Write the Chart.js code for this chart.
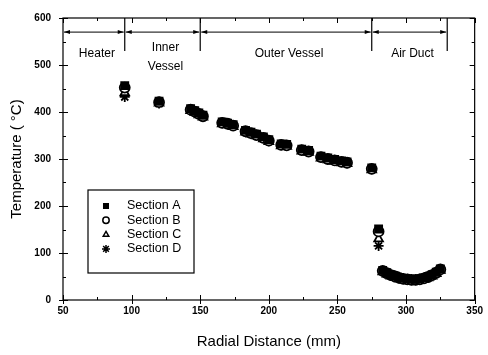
<!DOCTYPE html>
<html>
<head>
<meta charset="utf-8">
<script src="https://cdn.jsdelivr.net/npm/chart.js@4/dist/chart.umd.min.js"></script>
<style>
  body { margin: 0; background: #fff; }
  canvas { display: block; }
</style>
</head>
<body>
<canvas id="tempChart" width="488" height="355"></canvas>
<script>
// Radial temperature profile, four measurement sections

const distances = [95, 120, 143, 146, 149, 152, 166, 170, 174, 183, 187, 191, 196, 200, 209, 213, 224, 229, 238, 243, 248, 253, 257, 275, 280, 283, 286, 289, 292, 295, 298, 301, 304, 307, 310, 313, 316, 319, 322, 325];
const sectionA = [456, 423, 407, 403, 398, 393, 379, 376, 373, 361, 357, 353, 347, 341, 332, 331, 321, 318, 306, 302, 299, 296, 294, 281, 151, 63, 58, 54, 51, 48, 46, 45, 44, 44, 45, 47, 50, 54, 59, 66];
const sectionB = [452, 421, 405, 401, 396, 391, 377, 375, 371, 359, 355, 351, 345, 339, 330, 329, 319, 316, 304, 300, 297, 294, 292, 279, 146, 62, 57, 53, 50, 47, 45, 44, 43, 43, 44, 46, 49, 53, 58, 65];
const sectionC = [441, 419, 403, 399, 394, 389, 375, 373, 369, 357, 353, 349, 343, 337, 328, 327, 317, 314, 302, 298, 295, 292, 290, 277, 130, 60, 55, 51, 48, 45, 43, 42, 41, 41, 42, 44, 47, 51, 56, 63];
const sectionD = [432, 418, 404, 400, 395, 390, 376, 374, 370, 358, 354, 350, 344, 338, 329, 328, 318, 315, 303, 299, 296, 293, 291, 278, 115, 61, 56, 52, 49, 46, 44, 43, 42, 42, 43, 45, 48, 52, 57, 64];

const sectionNames = ['Section A', 'Section B', 'Section C', 'Section D'];
const regionBounds = [50, 95, 150, 275, 330];
const regionNames = [['Heater'], ['Inner', 'Vessel'], ['Outer Vessel'], ['Air Duct']];

const FONT = '"Liberation Sans", Arial, sans-serif';

function toPoints(values) {
  return distances.map((d, i) => ({ x: d, y: values[i] }));
}

const markerStyles = [
  { pointStyle: 'rect', fill: '#000' },
  { pointStyle: 'circle', fill: '#fff' },
  { pointStyle: 'triangle', fill: '#fff' },
  { pointStyle: 'star', fill: '#000' }
];

// Box, ticks on all four sides
const frameTicks = {
  id: 'frameTicks',
  afterDatasetsDraw(chart) {
    const { ctx, chartArea: a, scales: { x, y } } = chart;
    ctx.save();
    ctx.strokeStyle = '#000';
    ctx.lineWidth = 1.2;
    ctx.strokeRect(a.left, a.top, a.right - a.left, a.bottom - a.top);
    ctx.lineWidth = 1;
    ctx.beginPath();
    x.ticks.forEach(t => {
      const px = Math.round(x.getPixelForValue(t.value)) + 0.5;
      const major = t.value % 50 === 0;
      const len = major ? 5 : 3;
      ctx.moveTo(px, a.bottom + (major ? 4 : 0));
      ctx.lineTo(px, a.bottom - len);
      ctx.moveTo(px, a.top);
      ctx.lineTo(px, a.top + len);
    });
    y.ticks.forEach(t => {
      const py = Math.round(y.getPixelForValue(t.value)) + 0.5;
      const major = t.value % 100 === 0;
      const len = major ? 5 : 3;
      ctx.moveTo(a.left - (major ? 4 : 0), py);
      ctx.lineTo(a.left + len, py);
      ctx.moveTo(a.right, py);
      ctx.lineTo(a.right - len, py);
    });
    ctx.stroke();
    ctx.restore();
  }
};

// Region dividers, arrows and names
const regions = {
  id: 'regions',
  afterDatasetsDraw(chart) {
    const { ctx, scales: { x, y } } = chart;
    const arrowY = y.getPixelForValue(570);
    ctx.save();
    ctx.strokeStyle = '#000';
    ctx.fillStyle = '#000';
    ctx.lineWidth = 1.2;
    ctx.beginPath();
    regionBounds.slice(1).forEach(b => {
      const px = x.getPixelForValue(b);
      ctx.moveTo(px, y.getPixelForValue(600));
      ctx.lineTo(px, y.getPixelForValue(530));
    });
    ctx.stroke();

    for (let i = 0; i < regionBounds.length - 1; i++) {
      const x0 = x.getPixelForValue(regionBounds[i]) + 1;
      const x1 = x.getPixelForValue(regionBounds[i + 1]) - 1;
      ctx.lineWidth = 1;
      ctx.beginPath();
      ctx.moveTo(x0, arrowY);
      ctx.lineTo(x1, arrowY);
      ctx.stroke();
      ctx.beginPath();
      ctx.moveTo(x0, arrowY);
      ctx.lineTo(x0 + 6, arrowY - 2);
      ctx.lineTo(x0 + 6, arrowY + 2);
      ctx.closePath();
      ctx.moveTo(x1, arrowY);
      ctx.lineTo(x1 - 6, arrowY - 2);
      ctx.lineTo(x1 - 6, arrowY + 2);
      ctx.closePath();
      ctx.fill();

      const cx = x.getPixelForValue((regionBounds[i] + regionBounds[i + 1]) / 2);
      const lines = regionNames[i];
      ctx.font = '12px ' + FONT;
      ctx.textAlign = 'center';
      ctx.textBaseline = 'middle';
      if (lines.length === 1) {
        ctx.fillText(lines[0], cx + 3, y.getPixelForValue(524));
      } else {
        ctx.fillText(lines[0], cx + 3, y.getPixelForValue(537));
        ctx.fillText(lines[1], cx + 3, y.getPixelForValue(496));
      }
    }
    ctx.restore();
  }
};

// Boxed legend inside the plot
const boxLegend = {
  id: 'boxLegend',
  afterDraw(chart) {
    const { ctx, chartArea: a } = chart;
    const left = a.left + 25, top = a.top + 172, w = 106, h = 83;
    ctx.save();
    ctx.fillStyle = '#fff';
    ctx.fillRect(left, top, w, h);
    ctx.strokeStyle = '#000';
    ctx.lineWidth = 1.2;
    ctx.strokeRect(left, top, w, h);
    chart.data.datasets.forEach((ds, i) => {
      const ry = top + 16 + i * 14.3;
      ctx.fillStyle = ds.backgroundColor;
      ctx.strokeStyle = '#000';
      ctx.lineWidth = 1.5;
      const r = ds.pointStyle === 'star' ? 4 : 3.2;
      Chart.helpers.drawPoint(ctx, { pointStyle: ds.pointStyle, radius: r, rotation: 0, borderWidth: 1.5 }, left + 18, ry);
      ctx.fillStyle = '#000';
      ctx.font = '12.5px ' + FONT;
      ctx.textAlign = 'left';
      ctx.textBaseline = 'middle';
      ctx.fillText(ds.label, left + 39, ry);
    });
    ctx.restore();
  }
};

new Chart(document.getElementById('tempChart'), {
  type: 'scatter',
  data: {
    datasets: [sectionA, sectionB, sectionC, sectionD].map((vals, i) => ({
      label: sectionNames[i],
      data: toPoints(vals),
      pointStyle: markerStyles[i].pointStyle,
      backgroundColor: markerStyles[i].fill,
      borderColor: '#000',
      borderWidth: 1.8,
      pointRadius: 5,
      showLine: false
    }))
  },
  options: {
    responsive: false,
    animation: false,
    layout: { padding: { top: 12, right: 11, left: 0, bottom: 0 } },
    plugins: {
      legend: { display: false },
      tooltip: { enabled: false }
    },
    scales: {
      x: {
        type: 'linear',
        min: 50,
        max: 350,
        afterFit(scale) { scale.height = 55; },
        grid: { display: false, drawTicks: false },
        border: { display: false },
        ticks: {
          stepSize: 25,
          padding: 5,
          maxRotation: 0,
          autoSkip: false,
          color: '#000',
          font: { family: FONT, size: 10, weight: 'bold' },
          callback: v => (v % 50 === 0 ? v : '')
        },
        title: {
          display: true,
          text: 'Radial Distance (mm)',
          color: '#000',
          font: { family: FONT, size: 15 },
          padding: { top: 0, bottom: 4 }
        }
      },
      y: {
        type: 'linear',
        min: 0,
        max: 600,
        afterFit(scale) { scale.width = 63; },
        grid: { display: false, drawTicks: false },
        border: { display: false },
        ticks: {
          stepSize: 50,
          padding: 12,
          autoSkip: false,
          color: '#000',
          font: { family: FONT, size: 10, weight: 'bold' },
          callback: v => (v % 100 === 0 ? v : '')
        },
        title: {
          display: true,
          text: 'Temperature ( °C)',
          color: '#000',
          font: { family: FONT, size: 15 },
          padding: { top: 8, bottom: 0 }
        }
      }
    }
  },
  plugins: [frameTicks, regions, boxLegend]
});
</script>
</body>
</html>
